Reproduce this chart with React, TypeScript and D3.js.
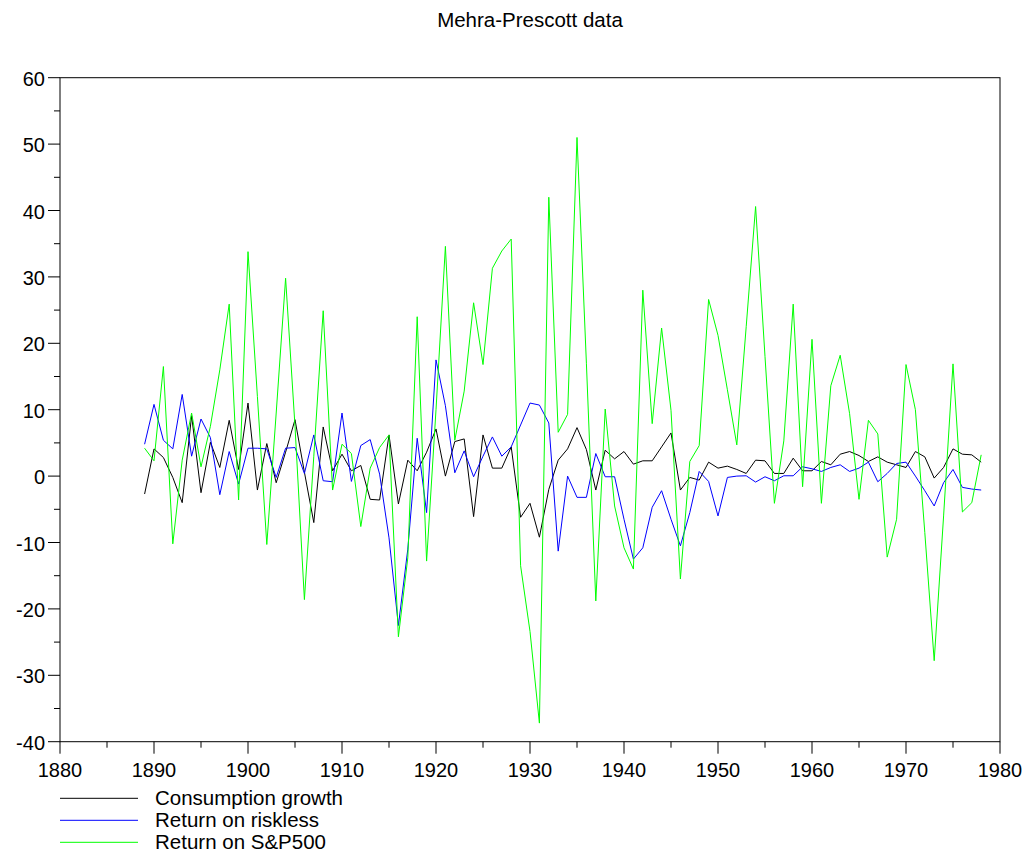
import React, { useEffect, useRef } from "react";
import * as d3 from "d3";

// years 1889..1978
const years = d3.range(1889, 1979);

const consumption = [
  -2.7, 4.1, 2.8, -0.2, -4.0, 9.1, -2.5, 5.1, 1.3, 8.4,
  1.0, 11.0, -2.1, 4.9, -1.0, 3.6, 8.5, 0.6, -7.0, 7.4,
  0.8, 3.3, 0.8, 1.6, -3.5, -3.6, 6.2, -4.2, 2.4, 0.8,
  3.6, 7.1, 0.0, 5.2, 5.6, -6.1, 6.2, 1.2, 1.2, 4.4,
  -6.2, -4.1, -9.2, -2.0, 2.4, 4.1, 7.3, 4.0, -2.1, 3.9,
  2.6, 3.7, 1.8, 2.3, 2.3, 4.4, 6.5, -2.1, -0.2, -0.6,
  2.1, 1.2, 1.5, 1.0, 0.4, 2.4, 2.3, 0.4, 0.4, 2.7,
  0.8, 0.8, 2.2, 1.7, 3.3, 3.7, 3.1, 2.2, 2.9, 2.1,
  1.7, 1.3, 3.7, 2.9, -0.3, 1.3, 4.1, 3.3, 3.2, 2.1
];

const riskless = [
  4.8, 10.8, 5.4, 4.1, 12.3, 3.0, 8.6, 5.8, -2.8, 3.7,
  -1.2, 4.2, 4.2, 4.1, -0.2, 4.2, 4.3, 0.4, 6.2, -0.7,
  -0.85, 9.5, -0.8, 4.6, 5.5, 0.3, -9.3, -22.5, -11.0, 5.7,
  -5.5, 17.5, 10.6, 0.5, 3.8, -0.1, 3.0, 5.9, 3.0, 4.4,
  7.7, 11.0, 10.7, 8.0, -11.3, 0.0, -3.2, -3.2, 3.4, -0.1,
  -0.1, -6.5, -12.5, -10.8, -4.7, -2.2, -6.5, -10.5, -5.5, 0.7,
  -0.8, -6.0, -0.2, 0.0, 0.05, -0.9, -0.1, -0.7, 0.05, 0.05,
  1.4, 1.1, 0.7, 1.3, 1.7, 0.7, 1.2, 2.1, -0.85, 0.4,
  1.9, 2.1, 0.0, -2.2, -4.5, -1.0, 1.0, -1.7, -1.95, -2.1
];

const sp500 = [
  4.2, 2.3, 16.5, -10.2, 2.4, 9.5, 1.4, 7.5, 16.0, 25.9,
  -3.6, 33.8, 12.0, -10.3, 9.5, 29.8, 7.5, -18.6, 3.0, 24.9,
  -2.1, 4.8, 3.4, -7.6, 1.2, 4.3, 6.2, -24.2, -12.3, 24.0,
  -12.8, 10.0, 34.6, 5.4, 12.8, 26.1, 16.8, 31.3, 33.9, 35.7,
  -13.5, -23.4, -37.2, 42.0, 6.6, 9.3, 51.0, 17.0, -18.8, 10.1,
  -4.5, -10.8, -14.0, 28.0, 7.9, 22.3, 9.9, -15.5, 2.2, 4.6,
  26.6, 21.2, 13.0, 4.7, 22.5, 40.6, 18.0, -4.1, 5.3, 25.9,
  -1.6, 20.6, -4.1, 13.6, 18.2, 9.4, -3.5, 8.4, 6.35, -12.2,
  -6.5, 16.8, 10.0, -8.5, -27.8, -6.0, 16.9, -5.4, -4.0, 3.2
];

const seriesNames = ["Consumption growth", "Return on riskless", "Return on S&P500"];
const seriesColors = ["#000000", "#0000ff", "#00ff00"];
const xTicks = d3.range(1880, 1981, 10);
const yTicks = d3.range(-40, 61, 10);

export default function App() {
  const ref = useRef<SVGSVGElement>(null);

  useEffect(() => {
    const svg = d3.select(ref.current);
    svg.selectAll("*").remove();

    const font = "Liberation Sans, Arial, sans-serif";
    const left = 60, right = 1000, top = 77.7, bottom = 741.7;

    const x = d3.scaleLinear().domain([1880, 1980]).range([left, right]);
    const y = d3.scaleLinear().domain([-40, 60]).range([bottom, top]);

    svg
      .append("text")
      .attr("x", 530)
      .attr("y", 27)
      .attr("text-anchor", "middle")
      .attr("font-family", font)
      .attr("font-size", 20.5)
      .text("Mehra-Prescott data");

    // box
    svg
      .append("rect")
      .attr("x", left)
      .attr("y", top)
      .attr("width", right - left)
      .attr("height", bottom - top)
      .attr("fill", "none")
      .attr("stroke", "#000")
      .attr("stroke-width", 1);

    // y axis ticks (major 10, minor 5)
    const yAxis = svg.append("g").attr("stroke", "#000").attr("stroke-width", 1);
    d3.range(-40, 61, 5).forEach(v => {
      const major = v % 10 === 0;
      yAxis
        .append("line")
        .attr("x1", left - (major ? 12 : 6))
        .attr("x2", left)
        .attr("y1", y(v))
        .attr("y2", y(v));
    });
    yTicks.forEach(v => {
      svg
        .append("text")
        .attr("x", 45)
        .attr("y", y(v) + 8)
        .attr("text-anchor", "end")
        .attr("font-family", font)
        .attr("font-size", 20)
        .text(v);
    });

    // x axis ticks
    const xAxis = svg.append("g").attr("stroke", "#000").attr("stroke-width", 1);
    d3.range(1880, 1981, 5).forEach(v => {
      const major = v % 10 === 0;
      xAxis
        .append("line")
        .attr("x1", x(v))
        .attr("x2", x(v))
        .attr("y1", bottom)
        .attr("y2", bottom + (major ? 12 : 6));
    });
    xTicks.forEach(v => {
      svg
        .append("text")
        .attr("x", x(v))
        .attr("y", 777)
        .attr("text-anchor", "middle")
        .attr("font-family", font)
        .attr("font-size", 20)
        .text(v);
    });

    const line = d3
      .line<number>()
      .x((d, i) => x(years[i]))
      .y(d => y(d));

    [consumption, riskless, sp500].forEach((s, i) => {
      svg
        .append("path")
        .datum(s)
        .attr("fill", "none")
        .attr("stroke", seriesColors[i])
        .attr("stroke-width", 1)
        .attr("d", line);
    });

    // legend
    seriesNames.forEach((name, i) => {
      const ly = 798.3 + i * 22;
      svg
        .append("line")
        .attr("x1", 60)
        .attr("x2", 138)
        .attr("y1", ly)
        .attr("y2", ly)
        .attr("stroke", seriesColors[i])
        .attr("stroke-width", 1);
      svg
        .append("text")
        .attr("x", 155)
        .attr("y", ly + 7)
        .attr("font-family", font)
        .attr("font-size", 20.5)
        .text(name);
    });
  }, []);

  return (
    <svg
      ref={ref}
      width={1026}
      height={852}
      style={{ position: "absolute", left: 0, top: 0, background: "#fff" }}
    />
  );
}
